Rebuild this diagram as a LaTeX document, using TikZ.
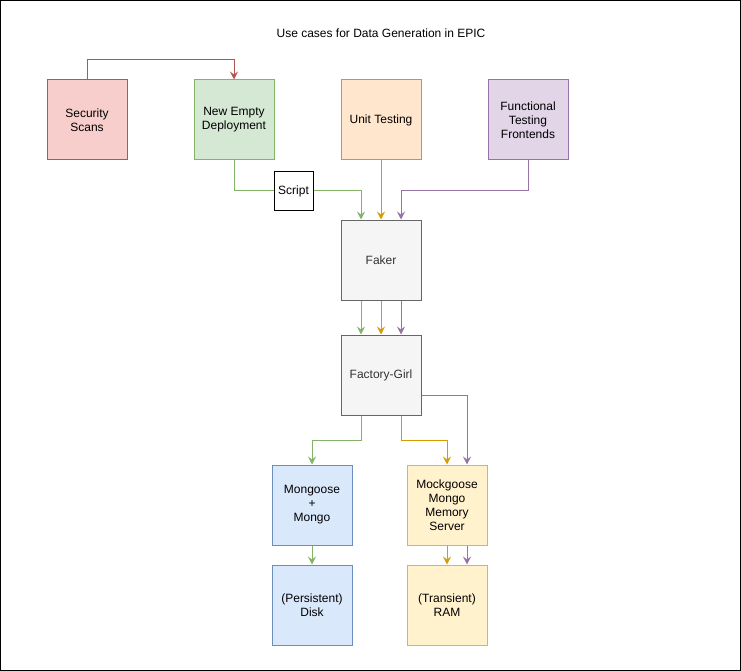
\documentclass[tikz,border=0pt]{standalone}
\usepackage{fontspec}
\setmainfont{Liberation Sans}
\usetikzlibrary{arrows.meta}

\definecolor{redfill}{HTML}{F8CECC}
\definecolor{redline}{HTML}{B85450}
\definecolor{greenfill}{HTML}{D5E8D4}
\definecolor{greenline}{HTML}{82B366}
\definecolor{orangefill}{HTML}{FFE6CC}
\definecolor{orangeline}{HTML}{D79B00}
\definecolor{purplefill}{HTML}{E1D5E7}
\definecolor{purpleline}{HTML}{9673A6}
\definecolor{greyfill}{HTML}{F5F5F5}
\definecolor{greyline}{HTML}{666666}
\definecolor{greytext}{HTML}{333333}
\definecolor{bluefill}{HTML}{DAE8FC}
\definecolor{blueline}{HTML}{6C8EBF}
\definecolor{yellowfill}{HTML}{FFF2CC}
\definecolor{yellowline}{HTML}{D6B656}

\tikzset{
  usecase/.style={draw, line width=1pt, minimum width=80pt, minimum height=80pt,
    inner sep=0pt, align=center, font=\fontsize{12}{14}\selectfont},
  link/.style={line width=1pt, -{Stealth[length=8pt,width=8pt,inset=3pt]}},
}

\begin{document}
\begin{tikzpicture}[x=1pt,y=-1pt]
  % cadre
  \useasboundingbox (0,0) rectangle (741,671);
  \draw[line width=0.8pt] (0.5,0.5) rectangle (740.5,670.5);

  % titre
  \node[font=\fontsize{12}{14}\selectfont] (title) at (381,33) {Use cases for Data Generation in EPIC};

  % cas d'usage
  \node[usecase, fill=redfill, draw=redline] (sec) at (87,120) {Security\\Scans};
  \node[usecase, fill=greenfill, draw=greenline] (ned) at (234,120) {New Empty\\Deployment};
  \node[usecase, fill=orangefill, draw=orangeline] (unit) at (381,120) {Unit Testing};
  \node[usecase, fill=purplefill, draw=purpleline] (func) at (528,120) {Functional\\Testing\\Frontends};
  \node[usecase, fill=white, draw=black, minimum width=39pt, minimum height=39pt] (script) at (293.5,191) {Script};

  % generateurs
  \node[usecase, fill=greyfill, draw=greyline, text=greytext] (faker) at (381,260) {Faker};
  \node[usecase, fill=greyfill, draw=greyline, text=greytext] (fg) at (381,375) {Factory-Girl};

  % stockage
  \node[usecase, fill=bluefill, draw=blueline] (mongo) at (312,505) {Mongoose\\+\\Mongo};
  \node[usecase, fill=yellowfill, draw=yellowline] (mock) at (447,505) {Mockgoose\\Mongo\\Memory\\Server};
  \node[usecase, fill=bluefill, draw=blueline] (disk) at (312,605) {(Persistent)\\Disk};
  \node[usecase, fill=yellowfill, draw=yellowline] (ram) at (447,605) {(Transient)\\RAM};

  % liaisons
  \draw[link, redline] (sec.north) -- ++(0,-20) -| (ned.north);
  \draw[line width=1pt, greenline] (ned.south) |- (script.west);
  \draw[link, greenline] (script.east) -| ([xshift=-20pt]faker.north);
  \draw[link, orangeline] (unit.south) -- (faker.north);
  \draw[link, purpleline] (func.south) -- (func.south |- script.east) -| ([xshift=20pt]faker.north);

  \draw[link, greenline] ([xshift=-20pt]faker.south) -- ([xshift=-20pt]fg.north);
  \draw[link, orangeline] (faker.south) -- (fg.north);
  \draw[link, purpleline] ([xshift=20pt]faker.south) -- ([xshift=20pt]fg.north);

  \draw[link, greenline] ([xshift=-20pt]fg.south) -- ++(0,25) -| (mongo.north);
  \draw[link, orangeline] ([xshift=20pt]fg.south) -- ++(0,25) -| (mock.north);
  \draw[link, purpleline] ([yshift=-20pt]fg.east) -| ([xshift=20pt]mock.north);

  \draw[link, greenline] (mongo.south) -- (disk.north);
  \draw[link, orangeline] (mock.south) -- (ram.north);
  \draw[link, purpleline] ([xshift=20pt]mock.south) -- ([xshift=20pt]ram.north);
\end{tikzpicture}
\end{document}
